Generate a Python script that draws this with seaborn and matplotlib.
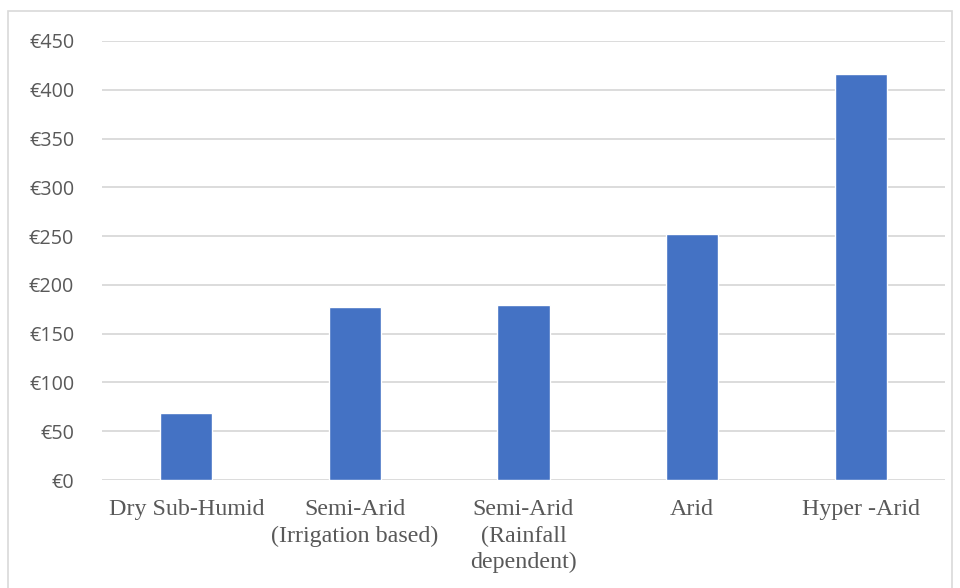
import matplotlib
matplotlib.use("Agg")
import matplotlib.pyplot as plt
import seaborn as sns
import pandas as pd
from matplotlib.patches import Rectangle

categories = ["Dry Sub-Humid", "Semi-Arid\n(Irrigation based)", "Semi-Arid\n(Rainfall\ndependent)", "Arid", "Hyper -Arid"]
values = [68.5, 177, 179, 252, 416]
yticks = [0, 50, 100, 150, 200, 250, 300, 350, 400, 450]
ytick_labels = ["€" + str(v) for v in yticks]

sns.set_theme(style="white")
df = pd.DataFrame({"category": categories, "value": values})

fig = plt.figure(figsize=(9.6, 5.88), dpi=100)
ax = fig.add_axes([102/960, 1-480/588, (945-102)/960, (480-41)/588])

sns.barplot(data=df, x="category", y="value", color="#4472C4", saturation=1, width=0.31, ax=ax, zorder=3)

ax.set_ylim(0, 450)
ax.set_xlim(-0.5, 4.5)
ax.set_yticks(yticks)
ax.set_yticklabels(ytick_labels, fontsize=14.2, color="#595959", family=["Open Sans", "DejaVu Sans"])
ax.set_xticks(range(len(categories)))
ax.set_xticklabels(categories, fontsize=17.3, color="#595959", family=["Liberation Serif"], linespacing=1.32, va="top")
ax.tick_params(axis="y", length=0, pad=20)
ax.tick_params(axis="x", length=0, pad=14)
ax.set_xlabel("")
ax.set_ylabel("")
for s in ax.spines.values():
    s.set_visible(False)
ax.yaxis.grid(True, color="#d9d9d9", linewidth=1.3, zorder=0)
ax.set_axisbelow(True)

fig.patches.append(Rectangle((8/960, -0.05), (952-8)/960, 1.05 - 11/588, transform=fig.transFigure,
                             fill=False, edgecolor="#d9d9d9", linewidth=1.2))

fig.savefig("out.png", dpi=100)
